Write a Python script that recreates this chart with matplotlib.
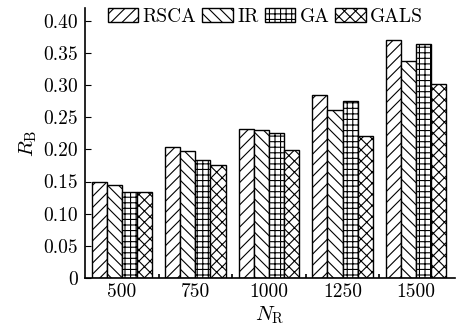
import numpy as np
import matplotlib
matplotlib.use('Agg')
import matplotlib.pyplot as plt
from matplotlib.ticker import FixedLocator

plt.rcParams['font.family'] = 'cmr10'
plt.rcParams['mathtext.fontset'] = 'cm'
plt.rcParams['axes.formatter.use_mathtext'] = True
plt.rcParams['hatch.linewidth'] = 0.8

# data
n_r = ['500', '750', '1000', '1250', '1500']
methods = ['RSCA', 'IR', 'GA', 'GALS']
rsca = [0.150, 0.204, 0.231, 0.284, 0.371]
ir = [0.145, 0.198, 0.230, 0.261, 0.338]
ga = [0.134, 0.184, 0.226, 0.276, 0.364]
gals = [0.133, 0.176, 0.199, 0.221, 0.301]
hatches = ['///', '\\\\\\', '+++', 'xxx']

series = [rsca, ir, ga, gals]
x = np.arange(len(n_r))
width = 0.205

fig = plt.figure(figsize=(4.64, 3.34), dpi=100)
ax = fig.add_axes([0.183, 0.168, 0.798, 0.808])

for i, vals in enumerate(series):
    ax.bar(x + (i - 1.5) * width, vals, width, color='white', edgecolor='black',
           linewidth=1.0, hatch=hatches[i], label=methods[i])

ax.set_xlim(-0.5, 4.53)
ax.set_ylim(0, 0.42)
ax.set_yticks(np.arange(0, 0.41, 0.05))
ax.set_yticklabels(['0'] + ['%.2f' % v for v in np.arange(0.05, 0.41, 0.05)])
ax.set_xticks(x)
ax.set_xticklabels(n_r)
ax.xaxis.set_minor_locator(FixedLocator(x[:-1] + 0.5))
ax.tick_params(axis='x', which='major', length=0, labelsize=14, pad=4)
ax.tick_params(axis='x', which='minor', direction='in', length=3, width=1.2)
ax.tick_params(axis='y', direction='in', length=4, width=0.8, labelsize=14, pad=5)

for s in ['top', 'right']:
    ax.spines[s].set_visible(False)
ax.spines['left'].set_linewidth(1.2)
ax.spines['bottom'].set_linewidth(1.2)

ax.set_xlabel(r'$N_{\mathrm{R}}$', fontsize=15, labelpad=2)
ax.set_ylabel(r'$R_{\mathrm{B}}$', fontsize=15, labelpad=3)

ax.legend(loc='upper left', bbox_to_anchor=(0.062, 1.0), ncol=4, frameon=False,
          fontsize=14, handlelength=1.55, handleheight=0.75, handletextpad=0.25,
          columnspacing=0.3, borderaxespad=0, borderpad=0)

fig.savefig('out.png', dpi=100)
